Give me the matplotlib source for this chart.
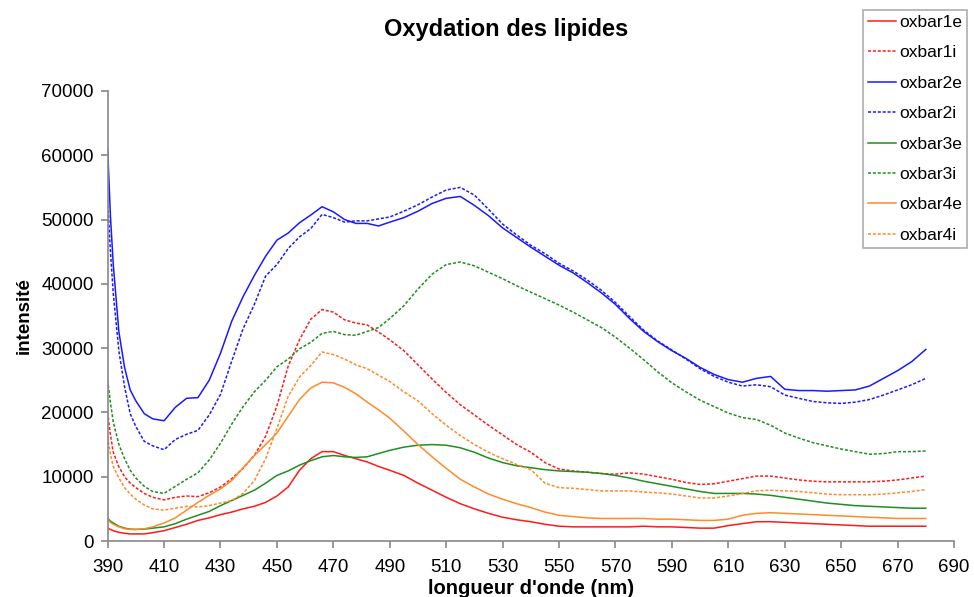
import matplotlib.pyplot as plt

plt.rcParams['font.family'] = ['Liberation Sans', 'DejaVu Sans']

# longueurs d'onde (nm)
wl = [390, 391, 392, 394, 396, 398, 400, 403, 406,
      410, 414, 418, 422, 426, 430, 434, 438, 442, 446, 450, 454, 458, 462, 466, 470,
      474, 478, 482, 486, 490,
      495, 500, 505, 510, 515, 520, 525, 530, 535, 540, 545, 550, 555, 560, 565, 570,
      575, 580, 585, 590, 595, 600, 605, 610, 615, 620, 625, 630, 635, 640, 645, 650,
      655, 660, 665, 670, 675, 680]

# intensités en milliers
oxbar1e = [2.0, 1.8, 1.6, 1.35, 1.2, 1.1, 1.1, 1.1, 1.3,
           1.6, 2.1, 2.6, 3.2, 3.6, 4.1, 4.5, 5.0, 5.4, 6.0, 7.0, 8.4, 11.0, 12.8, 13.9, 13.9,
           13.3, 12.8, 12.3, 11.6, 11.0,
           10.2, 9.0, 7.9, 6.8, 5.8, 5.0, 4.3, 3.7, 3.3, 3.0, 2.6, 2.3, 2.2, 2.2, 2.2, 2.2,
           2.2, 2.3, 2.2, 2.2, 2.1, 2.0, 2.0, 2.4, 2.7, 3.0, 3.0, 2.9, 2.8, 2.7, 2.6, 2.5,
           2.4, 2.3, 2.3, 2.3, 2.3, 2.3]
oxbar1i = [20.0, 16.5, 13.8, 11.5, 10.0, 9.0, 8.3, 7.4, 6.8,
           6.4, 6.8, 7.0, 6.9, 7.5, 8.4, 9.7, 11.3, 13.3, 16.3, 21.0, 27.2, 31.3, 34.5, 36.0, 35.6,
           34.4, 33.9, 33.6, 32.5, 31.3,
           29.6, 27.4, 25.2, 23.1, 21.2, 19.6, 18.0, 16.5, 15.0, 13.8, 12.2, 11.2, 10.9, 10.7, 10.5, 10.4,
           10.6, 10.4, 10.0, 9.6, 9.1, 8.8, 8.9, 9.3, 9.7, 10.1, 10.1, 9.8, 9.5, 9.3, 9.2, 9.2,
           9.2, 9.2, 9.3, 9.5, 9.8, 10.1]
oxbar2e = [61.0, 50.5, 43.0, 32.5, 27.0, 23.5, 21.8, 19.8, 19.0,
           18.7, 20.8, 22.2, 22.3, 25.0, 29.2, 34.2, 38.0, 41.3, 44.3, 46.8, 47.9, 49.5, 50.7, 52.0, 51.2,
           50.0, 49.4, 49.4, 49.0, 49.6,
           50.3, 51.3, 52.5, 53.3, 53.6, 52.2, 50.6, 48.7, 47.2, 45.7, 44.3, 42.9, 41.7, 40.2, 38.6, 36.8,
           34.6, 32.6, 31.0, 29.6, 28.4, 27.0, 25.9, 25.1, 24.7, 25.3, 25.6, 23.6, 23.4, 23.4, 23.3, 23.4,
           23.5, 24.1, 25.3, 26.5, 27.9, 29.8]
oxbar2i = [53.0, 45.0, 38.5, 29.5, 24.0, 19.8, 17.8, 15.5, 14.8,
           14.2, 15.8, 16.6, 17.2, 19.6, 22.8, 28.0, 33.0, 36.8, 41.2, 43.0, 45.5, 47.3, 48.6, 50.8, 50.3,
           49.6, 49.8, 49.8, 50.1, 50.4,
           51.3, 52.3, 53.5, 54.6, 55.0, 53.8, 51.6, 49.3, 47.6, 46.0, 44.7, 43.2, 42.0, 40.6, 39.0, 37.1,
           34.9, 32.8, 31.1, 29.7, 28.3, 26.8, 25.6, 24.7, 24.1, 24.3, 24.0, 22.7, 22.2, 21.7, 21.5, 21.4,
           21.6, 22.0, 22.7, 23.5, 24.3, 25.3]
oxbar3e = [3.5, 3.1, 2.8, 2.3, 2.0, 1.85, 1.8, 1.85, 2.0,
           2.2, 2.7, 3.4, 4.0, 4.6, 5.5, 6.3, 7.1, 7.9, 9.0, 10.2, 10.9, 11.8, 12.5, 13.1, 13.3,
           13.1, 13.0, 13.1, 13.6, 14.1,
           14.6, 14.9, 15.0, 14.9, 14.5, 13.8, 12.9, 12.2, 11.7, 11.4, 11.1, 10.9, 10.8, 10.7, 10.5, 10.2,
           9.8, 9.3, 8.9, 8.5, 8.1, 7.7, 7.4, 7.4, 7.4, 7.3, 7.1, 6.8, 6.5, 6.2, 5.9, 5.7,
           5.5, 5.4, 5.3, 5.2, 5.1, 5.1]
oxbar3i = [25.0, 21.5, 18.5, 15.0, 12.8, 11.0, 9.8, 8.5, 7.7,
           7.4, 8.5, 9.6, 10.6, 12.6, 15.2, 18.2, 20.9, 23.2, 25.0, 27.1, 28.3, 29.9, 30.9, 32.3, 32.6,
           32.1, 32.0, 32.6, 33.2, 34.6,
           36.6, 39.2, 41.5, 43.0, 43.4, 42.8, 41.8, 40.8, 39.7, 38.7, 37.7, 36.7, 35.6, 34.4, 33.2, 31.7,
           30.0, 28.2, 26.3, 24.6, 23.2, 21.9, 20.9, 19.9, 19.2, 18.9, 18.0, 16.8, 16.0, 15.3, 14.8, 14.3,
           13.9, 13.5, 13.6, 13.9, 13.9, 14.0]
oxbar4e = [3.3, 2.9, 2.6, 2.2, 1.9, 1.8, 1.8, 1.9, 2.2,
           2.8, 3.6, 4.8, 6.0, 7.1, 8.1, 9.4, 11.4, 13.3, 15.0, 16.8, 19.4, 22.0, 23.8, 24.7, 24.6,
           23.9, 22.9, 21.6, 20.4, 19.1,
           17.1, 15.0, 13.1, 11.3, 9.6, 8.4, 7.3, 6.5, 5.8, 5.2, 4.5, 4.0, 3.8, 3.6, 3.5, 3.5,
           3.5, 3.5, 3.4, 3.4, 3.3, 3.2, 3.2, 3.4, 4.0, 4.3, 4.4, 4.3, 4.2, 4.1, 4.0, 3.9,
           3.8, 3.7, 3.6, 3.5, 3.5, 3.5]
oxbar4i = [16.2, 13.5, 11.6, 9.8, 8.3, 7.3, 6.5, 5.6, 5.0,
           4.8, 5.1, 5.4, 5.3, 5.5, 5.9, 6.3, 7.4, 9.4, 12.8, 17.5, 22.5, 25.5, 27.3, 29.4, 29.0,
           28.3, 27.4, 26.8, 25.8, 24.8,
           23.2, 21.8, 19.8, 18.0, 16.4, 15.0, 13.8, 12.8, 11.9, 11.1, 9.0, 8.3, 8.2, 8.0, 7.8, 7.8,
           7.8, 7.6, 7.5, 7.3, 7.0, 6.7, 6.7, 7.0, 7.4, 7.8, 7.9, 7.8, 7.7, 7.5, 7.3, 7.2,
           7.2, 7.2, 7.3, 7.5, 7.7, 8.0]

dots = (0, (2, 1.2))
series = [
    ('oxbar1e', oxbar1e, '#ff1a1a', '-'),
    ('oxbar1i', oxbar1i, '#ff1a1a', dots),
    ('oxbar2e', oxbar2e, '#1a1aff', '-'),
    ('oxbar2i', oxbar2i, '#1a1aff', dots),
    ('oxbar3e', oxbar3e, '#1f8f1f', '-'),
    ('oxbar3i', oxbar3i, '#1f8f1f', dots),
    ('oxbar4e', oxbar4e, '#ff8a2a', '-'),
    ('oxbar4i', oxbar4i, '#ff8a2a', dots),
]

fig = plt.figure(figsize=(9.74, 5.97), dpi=100)
ax = fig.add_axes([0.1105, 0.0938, 0.869, 0.7538])

for name, vals, col, ls in series:
    ax.plot(wl, [v * 1000 for v in vals], color=col, linestyle=ls, linewidth=1.1, label=name)

ax.set_xlim(390, 690)
ax.set_ylim(0, 70000)
ax.set_xticks(range(390, 691, 20))
ax.set_yticks(range(0, 70001, 10000))
ax.tick_params(labelsize=13.5, color='#888888', length=5, width=1.2)
ax.tick_params(axis='x', pad=8)
ax.tick_params(axis='y', pad=5)
for s in ['top', 'right']:
    ax.spines[s].set_visible(False)
for s in ['left', 'bottom']:
    ax.spines[s].set_color('#888888')
    ax.spines[s].set_linewidth(1.2)

ax.set_xlabel("longueur d'onde (nm)", fontsize=14.5, fontweight='bold', labelpad=2)
ax.set_ylabel('intensité', fontsize=13.5, fontweight='bold', labelpad=6)
fig.text(0.52, 0.95, 'Oxydation des lipides', ha='center', va='center',
         fontsize=17, fontweight='bold')

leg = fig.legend(loc='upper right', bbox_to_anchor=(0.993, 0.984), fontsize=12.5,
                 handlelength=1.6, handletextpad=0.2, labelspacing=0.88,
                 fancybox=False, borderpad=0.3, borderaxespad=0)
leg.get_frame().set_edgecolor('#999999')
leg.get_frame().set_linewidth(1.2)

fig.savefig('out.png', dpi=100)
